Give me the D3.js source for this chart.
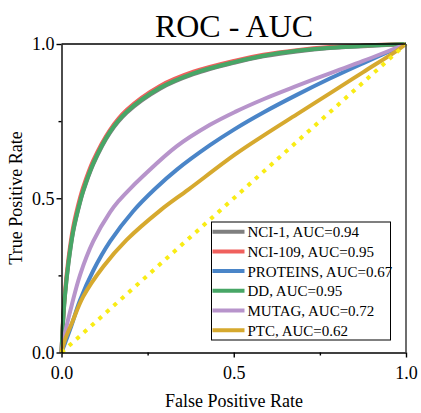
<!DOCTYPE html>
<html>
  <head>
    <meta charset="utf-8">
    <title>ROC - AUC</title>
    <script src="https://d3js.org/d3.v7.min.js"></script>
    <style type="text/css">
      body {
          margin: 0;
          background: #ffffff;
      }
      svg text {
          font-family: "Liberation Serif", "Times New Roman", serif;
          fill: #000;
      }
      .axis text {
          font-size: 18px;
      }
      .axis path, .axis line {
          stroke: #000;
          stroke-width: 1.4px;
      }
    </style>
  </head>
  <body>
    <script>
        // Series: [false positive rate, true positive rate]
        var names = ["NCI-1", "NCI-109", "PROTEINS", "DD", "MUTAG", "PTC"];
        var aucs = ["0.94", "0.95", "0.67", "0.95", "0.72", "0.62"];
        var colors = ["#7f7f7f", "#f0605d", "#4a85c8", "#47a666", "#b794cb", "#d6a92e"];

        var nci1 = [[0,0],[0.004,0.088],[0.010,0.182],[0.020,0.287],[0.034,0.392],[0.054,0.487],[0.063,0.522],[0.092,0.61],[0.141,0.713],[0.189,0.777],[0.286,0.855],[0.383,0.902],[0.504,0.94],[0.586,0.96],[0.683,0.976],[0.779,0.987],[0.876,0.993],[1,1]];
        var nci109 = [[0,0],[0.004,0.096],[0.010,0.195],[0.020,0.302],[0.034,0.407],[0.054,0.502],[0.063,0.536],[0.092,0.622],[0.141,0.722],[0.189,0.786],[0.286,0.864],[0.383,0.91],[0.504,0.946],[0.586,0.965],[0.683,0.98],[0.779,0.99],[0.876,0.995],[1,1]];
        var proteins = [[0,0],[0.025,0.075],[0.054,0.17],[0.092,0.265],[0.141,0.36],[0.208,0.458],[0.271,0.53],[0.334,0.592],[0.431,0.672],[0.504,0.725],[0.586,0.778],[0.683,0.835],[0.779,0.888],[0.876,0.938],[1,1]];
        var dd = [[0,0],[0.004,0.09],[0.010,0.185],[0.020,0.29],[0.034,0.395],[0.054,0.49],[0.063,0.525],[0.092,0.613],[0.141,0.716],[0.189,0.78],[0.286,0.858],[0.383,0.905],[0.504,0.942],[0.586,0.962],[0.683,0.978],[0.779,0.988],[0.876,0.994],[1,1]];
        var mutag = [[0,0],[0.010,0.062],[0.030,0.155],[0.054,0.252],[0.092,0.36],[0.141,0.455],[0.165,0.49],[0.194,0.525],[0.237,0.572],[0.334,0.668],[0.431,0.738],[0.504,0.78],[0.586,0.821],[0.683,0.864],[0.779,0.905],[0.876,0.945],[1,1]];
        var ptc = [[0,0],[0.010,0.041],[0.030,0.095],[0.063,0.181],[0.121,0.278],[0.189,0.365],[0.286,0.46],[0.368,0.528],[0.504,0.642],[0.586,0.703],[0.683,0.772],[0.779,0.84],[0.876,0.909],[0.973,0.978],[1,1]];
        var chance = [[0,0],[1,1]];

        var series = [nci1, nci109, proteins, dd, mutag, ptc];
        var majorTicks = [0, 0.5, 1];
        var minorTicks = [0.25, 0.75];

        drawChart();

        function drawChart() {
            var svgWidth = 421;
            var svgHeight = 413;
            var plotLeft = 61.5, plotRight = 406, plotTop = 44, plotBottom = 352.5;

            var svg = d3.select("body")
                        .append("svg")
                        .attr("width", svgWidth)
                        .attr("height", svgHeight);

            var xScale = d3.scaleLinear().domain([0, 1]).range([plotLeft, plotRight]);
            var yScale = d3.scaleLinear().domain([0, 1]).range([plotBottom, plotTop]);

            var line = d3.line()
                         .x(function(d) { return xScale(d[0]); })
                         .y(function(d) { return yScale(d[1]); })
                         .curve(d3.curveCatmullRom.alpha(0.5));

            // Curves
            series.forEach(function(s, i) {
                svg.append("path")
                   .datum(s)
                   .attr("d", line)
                   .attr("fill", "none")
                   .attr("stroke", colors[i])
                   .attr("stroke-width", 4);
            });

            // Chance line
            svg.append("path")
               .datum(chance)
               .attr("d", d3.line().x(function(d) { return xScale(d[0]); }).y(function(d) { return yScale(d[1]); }))
               .attr("fill", "none")
               .attr("stroke", "#f9ec14")
               .attr("stroke-width", 4)
               .attr("stroke-dasharray", "4,6");

            // Axes
            var xAxis = d3.axisBottom(xScale).tickValues(majorTicks).tickFormat(d3.format(".1f")).tickSize(5).tickSizeOuter(0);
            svg.append("g")
               .attr("class", "axis")
               .attr("transform", "translate(0," + plotBottom + ")")
               .call(xAxis)
               .selectAll("text").attr("y", 10).attr("dy", "0.9em");

            svg.append("g")
               .attr("class", "axis")
               .attr("transform", "translate(0," + plotBottom + ")")
               .call(d3.axisBottom(xScale).tickValues(minorTicks).tickFormat("").tickSize(3).tickSizeOuter(0))
               .select(".domain").remove();

            var yAxis = d3.axisLeft(yScale).tickValues(majorTicks).tickFormat(d3.format(".1f")).tickSize(5).tickSizeOuter(0);
            svg.append("g")
               .attr("class", "axis")
               .attr("transform", "translate(" + plotLeft + ",0)")
               .call(yAxis)
               .selectAll("text").attr("x", -7);

            svg.append("g")
               .attr("class", "axis")
               .attr("transform", "translate(" + plotLeft + ",0)")
               .call(d3.axisLeft(yScale).tickValues(minorTicks).tickFormat("").tickSize(3).tickSizeOuter(0))
               .select(".domain").remove();

            // Frame top and right
            svg.append("line")
               .attr("x1", plotLeft).attr("x2", plotRight).attr("y1", plotTop).attr("y2", plotTop)
               .attr("stroke", "#000").attr("stroke-width", 1.4);
            svg.append("line")
               .attr("x1", plotRight).attr("x2", plotRight).attr("y1", plotTop).attr("y2", plotBottom)
               .attr("stroke", "#4a4a4a").attr("stroke-width", 1.6);

            // Legend
            var legendX = 211.5, legendY = 222, rowStep = 19.7;
            svg.append("rect")
               .attr("x", legendX)
               .attr("y", legendY)
               .attr("width", 179)
               .attr("height", 118)
               .attr("fill", "#fff")
               .attr("stroke", "#000")
               .attr("stroke-width", 1);

            names.forEach(function(name, i) {
                var yRow = legendY + 9.7 + i * rowStep;
                svg.append("line")
                   .attr("x1", legendX + 1).attr("x2", legendX + 33)
                   .attr("y1", yRow).attr("y2", yRow)
                   .attr("stroke", colors[i])
                   .attr("stroke-width", 4);
                svg.append("text")
                   .attr("x", legendX + 36)
                   .attr("y", yRow + 5.5)
                   .attr("font-size", "15px")
                   .text(name + ", AUC=" + aucs[i]);
            });

            // Title and axis labels
            svg.append("text")
               .attr("x", 234)
               .attr("y", 37)
               .attr("text-anchor", "middle")
               .attr("font-size", "32px")
               .text("ROC - AUC");

            svg.append("text")
               .attr("x", 234)
               .attr("y", 407)
               .attr("text-anchor", "middle")
               .attr("font-size", "18px")
               .text("False Positive Rate");

            svg.append("text")
               .attr("transform", "rotate(-90)")
               .attr("x", -198)
               .attr("y", 22)
               .attr("text-anchor", "middle")
               .attr("font-size", "18px")
               .text("True Positive Rate");
        }
    </script>
  </body>
</html>
